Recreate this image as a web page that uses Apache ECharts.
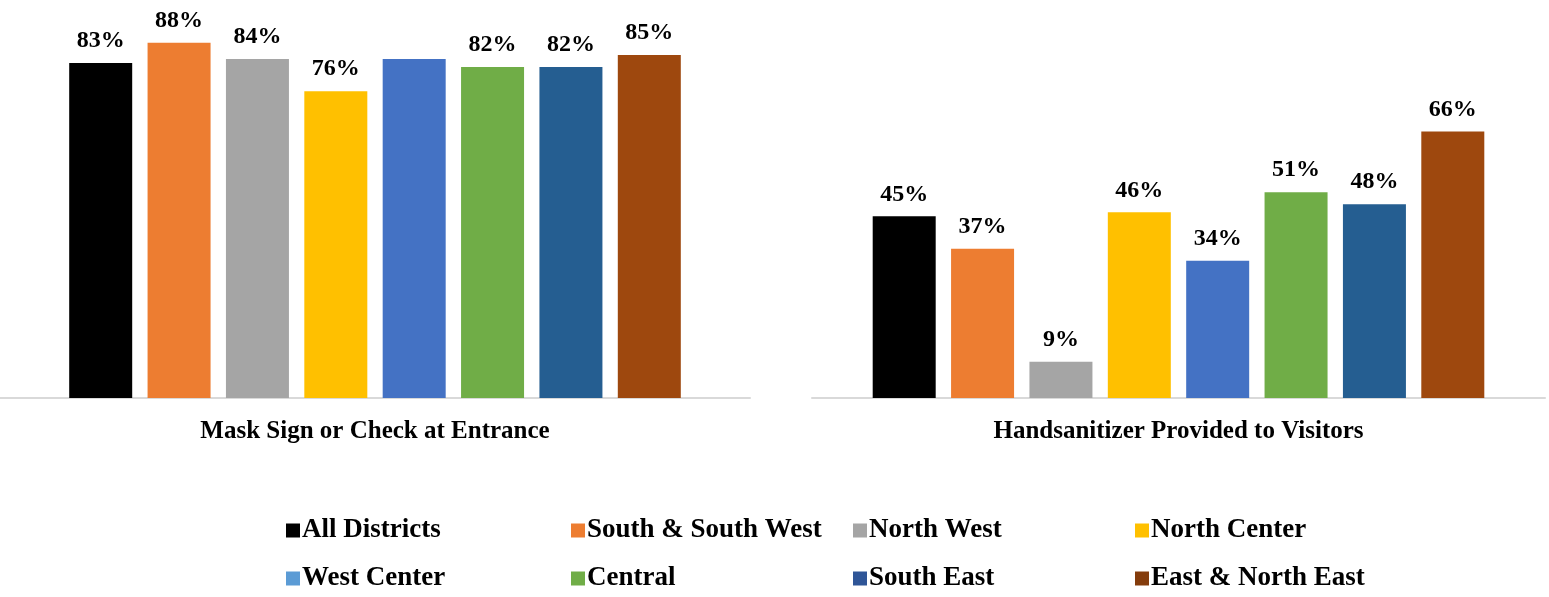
<!DOCTYPE html>
<html>
<head>
<meta charset="utf-8">
<script src="https://cdn.jsdelivr.net/npm/echarts@6/dist/echarts.min.js"></script>
<style>
  html, body { margin: 0; padding: 0; background: #fff; }
  #chart { width: 1549px; height: 597px; }
</style>
</head>
<body>
<div id="chart"></div>
<script>
// 数据
var categories = ['Mask Sign or Check at Entrance', 'Handsanitizer Provided to Visitors'];
var regions = ['All Districts', 'South & South West', 'North West', 'North Center',
               'West Center', 'Central', 'South East', 'East & North East'];
var maskValues = [83, 88, 84, 76, 84, 82, 82, 85];
var maskLabelShown = [true, true, true, true, false, true, true, true];
var sanitizerValues = [45, 37, 9, 46, 34, 51, 48, 66];

// 柱子颜色 / 图例颜色 (原图两者不完全一致)
var barColors = ['#000000', '#ED7D31', '#A5A5A5', '#FFC000', '#4472C4', '#70AD47', '#255E91', '#9E480E'];
var legendColors = ['#000000', '#ED7D31', '#A5A5A5', '#FFC000', '#5B9BD5', '#70AD47', '#2F5597', '#843C0C'];

(function () {
    var font = '"Liberation Serif", "Times New Roman", serif';

    function makeAxis(i) {
        return {
            type: 'category',
            gridIndex: i,
            data: [categories[i]],
            axisLine: { lineStyle: { color: '#d9d9d9', width: 2 } },
            axisTick: { show: false },
            axisLabel: { margin: 21, fontFamily: font, fontSize: 25, fontWeight: 'bold', color: '#000' }
        };
    }
    function makeY(i) {
        return { type: 'value', gridIndex: i, min: 0, max: 98.6, show: false, splitLine: { show: false } };
    }

    var series = [];
    regions.forEach(function (name, i) {
        var label = {
            show: true, position: 'top', distance: 10, formatter: '{c}%',
            fontFamily: font, fontSize: 24, fontWeight: 'bold', color: '#000'
        };
        series.push({
            name: name, type: 'bar', xAxisIndex: 0, yAxisIndex: 0,
            barWidth: 63, barGap: '24.4%',
            itemStyle: { color: barColors[i] },
            label: label,
            data: [{ value: maskValues[i], label: { show: maskLabelShown[i] } }]
        });
        series.push({
            name: name, type: 'bar', xAxisIndex: 1, yAxisIndex: 1,
            barWidth: 63, barGap: '24.4%',
            itemStyle: { color: barColors[i] },
            label: label,
            data: [sanitizerValues[i]]
        });
    });

    // 图例：每项单独定位，固定列
    var colX = [286, 571, 853, 1135];
    var rowY = [517, 565];
    var legends = regions.map(function (name, i) {
        return {
            left: colX[i % 4], top: rowY[Math.floor(i / 4)],
            padding: 0, itemWidth: 14, itemHeight: 14, itemGap: 0,
            icon: 'rect',
            selectedMode: false,
            textStyle: { fontFamily: font, fontSize: 27, fontWeight: 'bold', color: '#000', padding: [0, 0, 0, -3] },
            data: [{ name: name, itemStyle: { color: legendColors[i] } }]
        };
    });

    var option = {
        animation: false,
        grid: [
            { left: 0, top: 0, width: 750, height: 398 },
            { left: 812, top: 0, width: 733, height: 398 }
        ],
        xAxis: [makeAxis(0), makeAxis(1)],
        yAxis: [makeY(0), makeY(1)],
        legend: legends,
        series: series
    };

    var myChart = echarts.init(document.getElementById('chart'));
    myChart.setOption(option);
})();
</script>
</body>
</html>
